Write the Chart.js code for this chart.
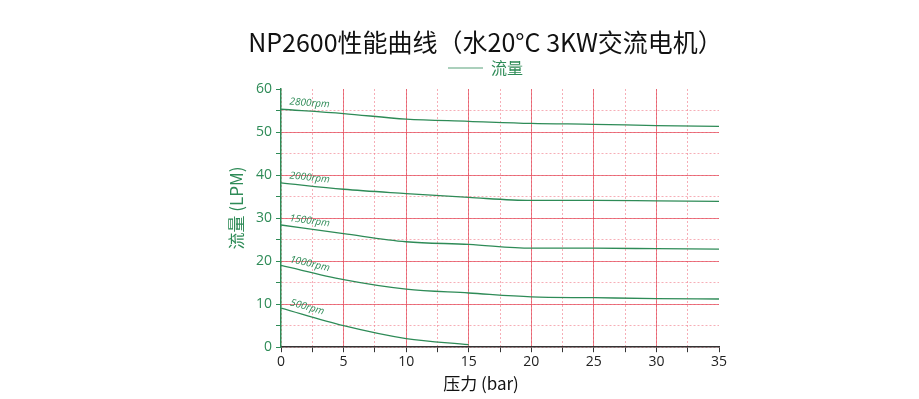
<!DOCTYPE html>
<html>
<head>
<meta charset="utf-8">
<script src="https://cdn.jsdelivr.net/npm/chart.js@4"></script>
<style>
  html, body { margin: 0; padding: 0; background: #fff; }
  #wrap { width: 919px; height: 399px; }
</style>
</head>
<body>
<div id="wrap"><canvas id="myChart"></canvas></div>
<script>
// pressure (bar)
const pressure = [0, 5, 10, 15, 20, 25, 30, 35];
const speeds = ['2800rpm', '2000rpm', '1500rpm', '1000rpm', '500rpm'];
// flow (LPM) per speed
const flow2800 = [55.3, 54.3, 53.0, 52.5, 52.0, 51.8, 51.5, 51.3];
const flow2000 = [38.2, 36.7, 35.7, 34.8, 34.1, 34.1, 34.0, 33.9];
const flow1500 = [28.4, 26.4, 24.5, 23.9, 23.0, 23.0, 22.9, 22.8];
const flow1000 = [19.0, 15.7, 13.5, 12.6, 11.7, 11.5, 11.3, 11.2];
const flow500 = [9.1, 5.0, 2.0, 0.6];

const chartTitle = 'NP2600性能曲线（水20°C 3KW交流电机）';
const xTitle = '压力 (bar)';
const yTitle = '流量 (LPM)';

const green = '#2e8b57';
const redMajor = 'rgba(228,70,85,0.7)';
const redMinor = 'rgba(240,120,135,0.6)';

const allFlows = [flow2800, flow2000, flow1500, flow1000, flow500];

// titles placed like the original (not centred on the plot)
const titles = {
    id: 'titles',
    afterDraw(chart) {
        const {ctx} = chart;
        ctx.save();
        ctx.textAlign = 'center';
        ctx.textBaseline = 'middle';
        ctx.fillStyle = '#111';
        ctx.font = '25px "Noto Sans CJK SC", sans-serif';
        ctx.fillText(chartTitle, 485.5, 42);
        ctx.font = '17px "Noto Sans CJK SC", sans-serif';
        ctx.fillText(xTitle, 481, 384);
        ctx.translate(237, 208);
        ctx.rotate(-Math.PI / 2);
        ctx.fillStyle = green;
        ctx.fillText(yTitle, 0, 0);
        ctx.restore();
    }
};

const rpmLabels = {
    id: 'rpmLabels',
    afterDatasetsDraw(chart) {
        const {ctx, scales: {x, y}} = chart;
        ctx.save();
        ctx.fillStyle = green;
        ctx.font = 'italic 10px "Open Sans", sans-serif';
        ctx.textBaseline = 'bottom';
        allFlows.forEach((vals, i) => {
            const x0 = x.getPixelForValue(pressure[0]);
            const y0 = y.getPixelForValue(vals[0]);
            const x1 = x.getPixelForValue(pressure[1]);
            const y1 = y.getPixelForValue(vals[1]);
            const ang = Math.atan2(y1 - y0, x1 - x0);
            ctx.save();
            ctx.translate(x0 + 8, y0 + (y1 - y0) * 8 / (x1 - x0) - 3);
            ctx.rotate(ang);
            ctx.fillText(speeds[i], 0, 0);
            ctx.restore();
        });
        ctx.restore();
    }
};

const mkSet = (vals) => ({
    label: '流量',
    data: vals.map((v, k) => ({x: pressure[k], y: v})),
    borderColor: green,
    backgroundColor: green,
    borderWidth: 1.3,
    pointRadius: 0,
    cubicInterpolationMode: 'monotone'
});

new Chart(document.getElementById('myChart'), {
    type: 'line',
    data: {
        datasets: allFlows.map(mkSet)
    },
    options: {
        responsive: true,
        maintainAspectRatio: false,
        animation: false,
        layout: {
            padding: {left: 252, right: 200, top: 49, bottom: 28}
        },
        plugins: {
            title: {display: false},
            legend: {
                display: true,
                labels: {
                    generateLabels: () => [{
                        text: '流量', fillStyle: 'rgba(46,139,87,0.8)', strokeStyle: green,
                        lineWidth: 0, fontColor: green, datasetIndex: 0, hidden: false
                    }],
                    color: green,
                    boxWidth: 35,
                    boxHeight: 1,
                    font: {family: '"Noto Sans CJK SC", sans-serif', size: 16},
                    padding: 11
                }
            },
            tooltip: {enabled: false}
        },
        scales: {
            x: {
                type: 'linear',
                min: 0,
                max: 35,
                ticks: {
                    stepSize: 2.5,
                    autoSkip: false,
                    maxRotation: 0,
                    color: '#222',
                    font: {family: '"Open Sans", sans-serif', size: 14},
                    padding: 1,
                    callback: (v) => (v % 5 === 0 ? v : '')
                },
                grid: {
                    color: (c) => (c.tick && c.tick.value === 35 ? 'rgba(0,0,0,0)' : redMinor),
                    lineWidth: 1,
                    tickColor: '#333',
                    tickLength: 5
                },
                border: {color: '#333', width: 1.5, dash: [2, 2]}
            },
            x2: {
                type: 'linear',
                position: 'top',
                min: 0,
                max: 35,
                afterFit: (s) => { s.height = 3; },
                ticks: {stepSize: 5, display: false},
                grid: {
                    color: (c) => (c.tick && (c.tick.value === 35 || c.tick.value === 0) ? 'rgba(0,0,0,0)' : redMajor),
                    lineWidth: 1, drawTicks: false
                },
                border: {display: false}
            },
            y: {
                min: 0,
                max: 60,
                ticks: {
                    stepSize: 5,
                    autoSkip: false,
                    color: green,
                    font: {family: '"Open Sans", sans-serif', size: 14},
                    padding: 4,
                    callback: (v) => (v % 10 === 0 ? v : '')
                },
                grid: {
                    color: (c) => (c.tick && c.tick.value === 60 ? 'rgba(0,0,0,0)' : redMinor),
                    lineWidth: 1,
                    tickColor: green,
                    tickLength: 5
                },
                border: {color: green, width: 1.5, dash: [2, 2]}
            },
            y2: {
                position: 'right',
                min: 0,
                max: 60,
                ticks: {stepSize: 10, display: false},
                grid: {
                    color: (c) => (c.tick && (c.tick.value === 60 || c.tick.value === 0) ? 'rgba(0,0,0,0)' : redMajor),
                    lineWidth: 1, drawTicks: false
                },
                border: {display: false}
            }
        }
    },
    plugins: [rpmLabels, titles]
});
</script>
</body>
</html>
